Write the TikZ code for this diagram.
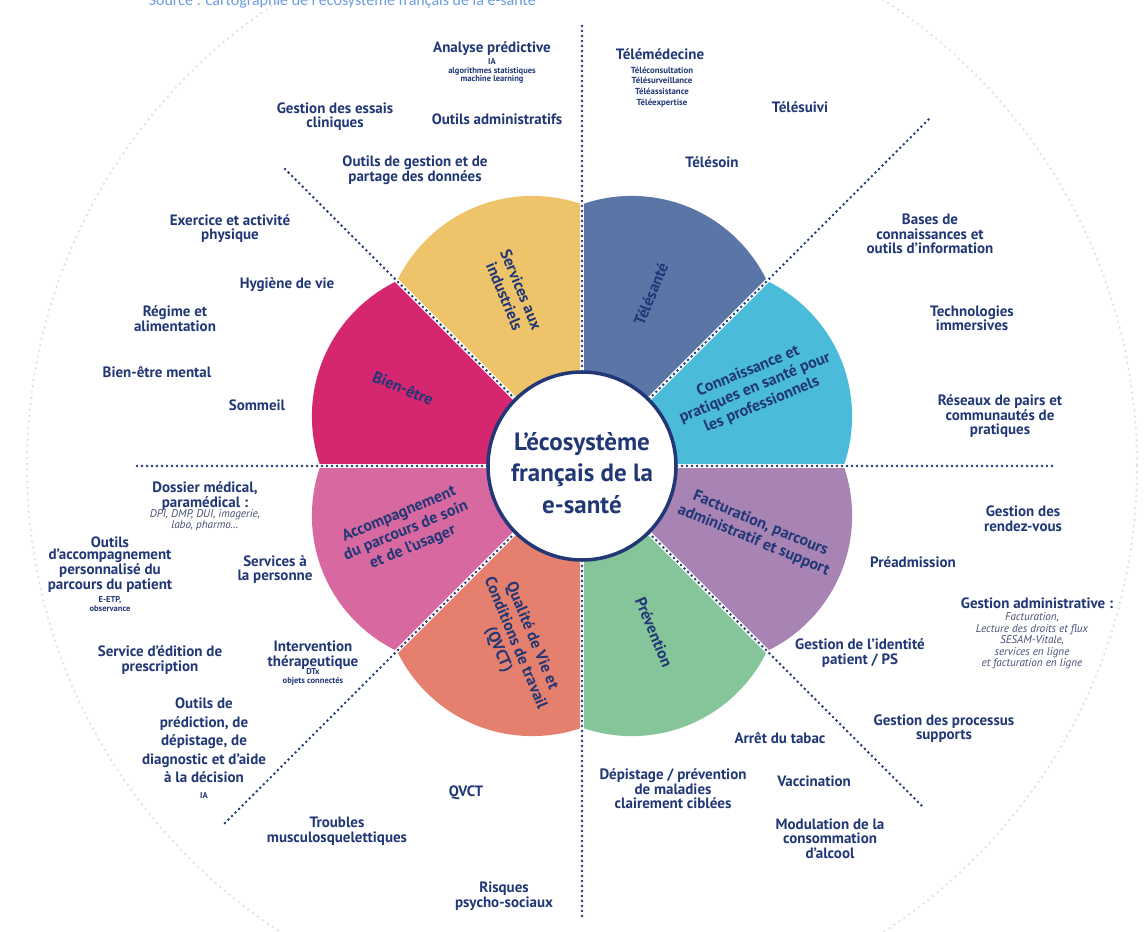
\documentclass[tikz,border=0pt]{standalone}
\usepackage{fontspec}
\setmainfont{PT Sans}
\newfontfamily\capfont{Carlito}
\definecolor{ecnavy}{RGB}{33,55,118}
\definecolor{ecgray}{RGB}{72,80,118}
\definecolor{capblue}{RGB}{110,155,225}
\definecolor{bgdot}{RGB}{222,222,230}
\definecolor{pcyan}{RGB}{74,187,216}
\definecolor{pblue}{RGB}{90,118,166}
\definecolor{pyellow}{RGB}{238,196,106}
\definecolor{pmagenta}{RGB}{213,38,112}
\definecolor{ppink}{RGB}{215,105,160}
\definecolor{pcoral}{RGB}{230,128,110}
\definecolor{pgreen}{RGB}{134,197,154}
\definecolor{pmauve}{RGB}{167,132,180}
\tikzset{
  lbl/.style={text=ecnavy, font=\fontsize{15}{14.5}\selectfont\bfseries, align=center, inner sep=0pt},
  wide/.style={text=ecnavy, font=\fontsize{15}{18.5}\selectfont\bfseries, align=center, inner sep=0pt},
  sublbl/.style={text=ecnavy, font=\fontsize{8.5}{8.5}\selectfont\bfseries, align=center, inner sep=0pt},
  telesub/.style={text=ecnavy, font=\fontsize{8.8}{10.8}\selectfont\bfseries, align=center, inner sep=0pt},
  ital/.style={text=ecgray, font=\fontsize{11.2}{11.5}\selectfont\itshape, align=center, inner sep=0pt},
  petallbl/.style={text=ecnavy, font=\fontsize{16}{18}\selectfont\bfseries, align=center, inner sep=0pt},
  divider/.style={draw=ecnavy, line width=2.8pt, line cap=round, dash pattern=on 0pt off 5pt},
  gapline/.style={draw=white, line width=4pt},
  bgring/.style={draw=bgdot, line width=2.5pt, line cap=round, dash pattern=on 0pt off 6pt},
}
\begin{document}
\begin{tikzpicture}[x=1pt,y=-1pt]
\useasboundingbox (0,0) rectangle (1145,931);
\fill[white] (0,0) rectangle (1145,931);

\coordinate (C) at (582,466);
% faint outer ring
\draw[bgring] (C) circle[radius=555];

% caption (cut by the top edge)
\node[anchor=base east, font=\capfont\fontsize{16}{16}\selectfont, text=capblue, inner sep=0pt] (caption) at (536,6) {Source : cartographie de l'écosystème français de la e-santé};

% petals
\begin{scope}[shift={(582,466)}, y=1pt]
  \foreach \a/\col in {0/pcyan, 45/pblue, 90/pyellow, 135/pmagenta, 180/ppink, 225/pcoral, 270/pgreen, 315/pmauve}{
    \begin{scope}
      \clip (0,0) -- (\a:600) -- (\a+45:600) -- cycle;
      \fill[\col] (\a+22.5:130) circle[radius=150];
    \end{scope}
  }
  \foreach \a in {0,45,...,315}{
    \draw[gapline] (0,0) -- (\a:300);
  }
\end{scope}

% dotted dividers
\coordinate (Ltop) at (582,22);
\coordinate (Lbot) at (582,917);
\coordinate (Lleft) at (135,466);
\coordinate (Lright) at (1052,466);
\coordinate (Lul) at (285,169);
\coordinate (Lur) at (929,119);
\coordinate (Lll) at (223,825);
\coordinate (Llr) at (924,808);
\foreach \e in {Ltop,Lbot,Lleft,Lright,Lul,Lur,Lll,Llr}{
  \draw[divider] (C) -- (\e);
}

% hub
\node[circle, draw=ecnavy, line width=3.5pt, fill=white, minimum size=188pt, inner sep=0pt] (hub) at (582,466) {};
\node[text=ecnavy, font=\fontsize{25}{31.5}\selectfont\bfseries, align=center, inner sep=0pt] (hubtext) at (582,473) {L'écosystème\\français de la\\e-santé};

% petal labels
\node[petallbl, rotate=-67.5] (p-serv) at (513,293) {Services aux\\industriels};
\node[petallbl, rotate=67.5] (p-tele) at (651,294) {Télésanté};
\node[petallbl, rotate=22.5] (p-conn) at (755,388) {Connaissance et\\pratiques en santé pour\\les professionnels};
\node[petallbl, rotate=-22.5] (p-fact) at (757,532) {Facturation, parcours\\administratif et support};
\node[petallbl, rotate=-67.5] (p-prev) at (654,632) {Prévention};
\node[petallbl, rotate=-67.5] (p-qvct) at (515,643) {Qualité de Vie et\\Conditions de travail\\(QVCT)};
\node[petallbl, rotate=22.5] (p-acc) at (406,531) {Accompagnement\\du parcours de soin\\et de l'usager};
\node[petallbl, rotate=-22.5] (p-bien) at (403,388) {Bien-être};

% top-left sector
\node[lbl] (ap) at (492,49) {Analyse prédictive};
\node[sublbl] (apsub) at (492,71) {IA\\algorithmes statistiques\\machine learning};
\node[lbl] (oa) at (497,119) {Outils administratifs};
\node[lbl] (ge) at (335,116.5) {Gestion des essais\\cliniques};
\node[lbl] (og) at (415,170) {Outils de gestion et de\\partage des données};

% top-right sector
\node[lbl] (tm) at (660,54) {Télémédecine};
\node[telesub] (tmsub) at (662,87) {Téléconsultation\\Télésurveillance\\Téléassistance\\Téléexpertise};
\node[lbl] (ts) at (800,107) {Télésuivi};
\node[lbl] (tso) at (712,162) {Télésoin};
\node[lbl] (bc) at (930,234) {Bases de\\connaissances et\\outils d'information};
\node[lbl] (ti) at (972,318.5) {Technologies\\immersives};
\node[lbl] (rp) at (1000,416.5) {Réseaux de pairs et\\communautés de\\pratiques};

% upper-left sector
\node[lbl] (ex) at (230,228.5) {Exercice et activité\\physique};
\node[lbl] (hv) at (287,285) {Hygiène de vie};
\node[lbl] (ra) at (175,318.5) {Régime et\\alimentation};
\node[lbl] (bm) at (157,372) {Bien-être mental};
\node[lbl] (so) at (257,405) {Sommeil};

% lower-left sector
\node[lbl] (dm) at (205,496) {Dossier médical,\\paramédical :};
\node[ital] (dmsub) at (205,520) {DPI, DMP, DUI, imagerie,\\labo, pharmo…};
\node[lbl, font=\fontsize{15}{12.8}\selectfont\bfseries] (oap) at (110,564.5) {Outils\\d'accompagnement\\personnalisé du\\parcours du patient};
\node[sublbl] (oapsub) at (110,604) {E-ETP,\\observance};
\node[lbl] (sp) at (275,569.5) {Services à\\la personne};
\node[lbl] (se) at (160,660) {Service d'édition de\\prescription};
\node[lbl] (it) at (313,655) {Intervention\\thérapeutique};
\node[sublbl] (itsub) at (313,677) {DTx\\objets connectés};
\node[wide] (op) at (204,740.5) {Outils de\\prédiction, de\\dépistage, de\\diagnostic et d'aide\\à la décision};
\node[sublbl] (opsub) at (204,795) {IA};

% bottom sectors
\node[lbl] (qv) at (466,793) {QVCT};
\node[lbl] (tr) at (337,831) {Troubles\\musculosquelettiques};
\node[lbl] (rps) at (504,896) {Risques\\psycho-sociaux};
\node[lbl] (at) at (780,738) {Arrêt du tabac};
\node[lbl] (dp) at (673,789) {Dépistage / prévention\\de maladies\\clairement ciblées};
\node[lbl] (va) at (814,781) {Vaccination};
\node[lbl] (mc) at (830,838.5) {Modulation de la\\consommation\\d'alcool};

% lower-right sector
\node[lbl] (gr) at (1023,518.5) {Gestion des\\rendez-vous};
\node[lbl] (pa) at (913,562) {Préadmission};
\node[lbl] (ga) at (1037,603) {Gestion administrative :};
\node[ital] (gasub) at (1032,641) {Facturation,\\Lecture des droits et flux\\SESAM-Vitale,\\services en ligne\\et facturation en ligne};
\node[lbl] (gi) at (860,653) {Gestion de l'identité\\patient / PS};
\node[lbl] (gp) at (944,728.5) {Gestion des processus\\supports};
\end{tikzpicture}
\end{document}
